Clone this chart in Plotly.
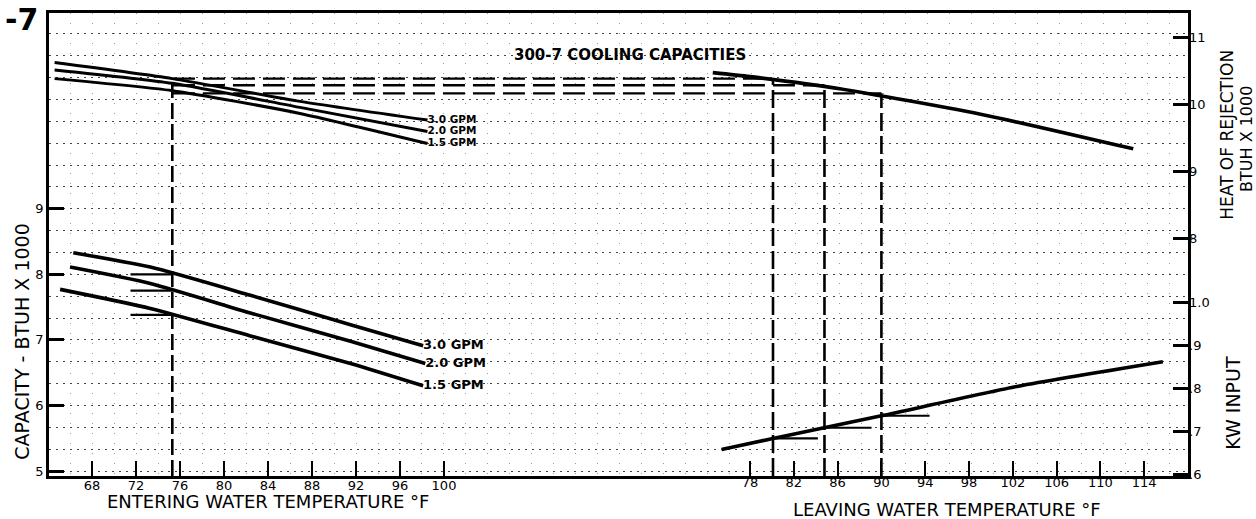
import plotly.graph_objects as go

# ---------------- data ----------------
ENTERING_TICKS = [68, 72, 76, 80, 84, 88, 92, 96, 100]
LEAVING_TICKS = [78, 82, 86, 90, 94, 98, 102, 106, 110, 114]
CAPACITY_TICKS = [5, 6, 7, 8, 9]
HOR_TICKS = [8, 9, 10, 11]
KW_TICKS = [0.6, 0.7, 0.8, 0.9, 1.0]
KW_TICK_TEXT = [".6", ".7", ".8", ".9", "1.0"]
GPM_LABELS = ["3.0 GPM", "2.0 GPM", "1.5 GPM"]

# cooling capacity (BTUH x 1000) vs entering water temperature
CAP_ENT_30 = [66.3, 73.3, 82.4, 91.5, 98.1]
CAP_30 = [8.33, 8.11, 7.68, 7.23, 6.91]
CAP_ENT_20 = [66.0, 73.3, 82.4, 91.5, 98.3]
CAP_20 = [8.11, 7.86, 7.41, 6.98, 6.64]
CAP_ENT_15 = [65.1, 73.3, 82.4, 91.5, 98.1]
CAP_15 = [7.77, 7.48, 7.06, 6.64, 6.30]

# heat of rejection (BTUH x 1000) vs entering water temperature
HOR_ENT = [64.6, 75.3, 86.9, 98.5]
HOR_30 = [10.63, 10.39, 10.05, 9.77]
HOR_20 = [10.52, 10.32, 9.96, 9.60]
HOR_15 = [10.39, 10.21, 9.87, 9.42]

# heat of rejection vs leaving water temperature
HOR_LEAVE = [74.6, 78.0, 86.2, 99.6, 113.0]
HOR_LEAVE_VAL = [10.48, 10.42, 10.24, 9.84, 9.34]

# kW input vs leaving water temperature
KW_LEAVE = [75.4, 80.1, 90.0, 102.5, 115.7]
KW_VAL = [0.657, 0.683, 0.736, 0.805, 0.862]

# example reading guides
GUIDE_ENTERING = 75.3
ARROW_ENT_START = 71.5
GUIDE_CAP = [8.0, 7.75, 7.38]
DASH_START_LEAVING = 25.3
GUIDE_LEAVING = [80.1, 84.8, 90.0]
GUIDE_HOR = [10.39, 10.29, 10.17]
GUIDE_KW = [0.683, 0.708, 0.736]
ARROW_LEAVE_END = [84.2, 89.1, 94.4]

# axis ranges
X_ENT_RANGE = [64.09, 167.64]
X_LEAVE_RANGE = [13.98, 118.0]
Y_CAP_RANGE = [4.924, 11.985]
Y_HOR_RANGE = [4.45, 11.371]
Y_KW_RANGE = [0.5954, 1.676]

FONT = "DejaVu Sans"
BLACK = "#000000"

fig = go.Figure()

def line(x, y, xa, ya, width=3.4, dash=None, shape="spline"):
    fig.add_trace(go.Scatter(
        x=x, y=y, xaxis=xa, yaxis=ya, mode="lines",
        line=dict(color=BLACK, width=width, dash=dash, shape=shape, smoothing=0.6),
        showlegend=False, hoverinfo="skip"))

def label(x, y, xa, ya, text, size):
    fig.add_trace(go.Scatter(
        x=[x], y=[y], xaxis=xa, yaxis=ya, mode="text", text=[text],
        textposition="middle right",
        textfont=dict(family=FONT, size=size, color=BLACK, weight="bold"),
        showlegend=False, hoverinfo="skip"))

# heat of rejection curves (entering)
for xs, ys, lab in [(HOR_ENT, HOR_30, GPM_LABELS[0]), (HOR_ENT, HOR_20, GPM_LABELS[1]),
                    (HOR_ENT, HOR_15, GPM_LABELS[2])]:
    line(xs, ys, "x", "y2", width=3.0)
    label(xs[-1], ys[-1], "x", "y2", lab, 10.5)

# capacity curves (entering)
for xs, ys, lab in [(CAP_ENT_30, CAP_30, GPM_LABELS[0]), (CAP_ENT_20, CAP_20, GPM_LABELS[1]),
                    (CAP_ENT_15, CAP_15, GPM_LABELS[2])]:
    line(xs, ys, "x", "y", width=3.6)
    label(xs[-1], ys[-1], "x", "y", lab, 13)

# heat of rejection vs leaving
line(HOR_LEAVE, HOR_LEAVE_VAL, "x2", "y2", width=3.6)
# kW input vs leaving
line(KW_LEAVE, KW_VAL, "x2", "y3", width=3.6)

# guides: vertical dashed at entering temperature
line([GUIDE_ENTERING, GUIDE_ENTERING], [Y_HOR_RANGE[0], GUIDE_HOR[0]], "x", "y2",
     width=2.6, dash="16px,5px", shape="linear")
# arrows to capacity axis
for c in GUIDE_CAP:
    line([ARROW_ENT_START, GUIDE_ENTERING], [c, c], "x", "y", width=2.2, shape="linear")
# horizontal dashed lines across to the leaving curve, then down
for lv, hv, kv, ae in zip(GUIDE_LEAVING, GUIDE_HOR, GUIDE_KW, ARROW_LEAVE_END):
    line([DASH_START_LEAVING, lv], [hv, hv], "x2", "y2", width=2.4, dash="22px,8px", shape="linear")
    line([lv, lv], [Y_HOR_RANGE[0], hv], "x2", "y2", width=2.6, dash="18px,5px", shape="linear")
    line([lv, ae], [kv, kv], "x2", "y3", width=2.2, shape="linear")

GRID = dict(gridcolor="#444444", gridwidth=1.3, griddash="2px,5px")
TICKFONT = dict(size=13, family=FONT, color=BLACK)

fig.update_layout(
    width=1256, height=519, autosize=False,
    margin=dict(l=49, r=68, t=10, b=43),
    paper_bgcolor="white", plot_bgcolor="white",
    font=dict(family=FONT, color=BLACK, size=13),
    showlegend=False,
    xaxis=dict(
        range=X_ENT_RANGE, tickmode="array", tickvals=ENTERING_TICKS,
        ticks="inside", ticklen=15, tickwidth=2, tickcolor=BLACK,
        showline=True, linewidth=2.5, linecolor=BLACK, mirror=True,
        showgrid=False, zeroline=False, ticklabelstandoff=-4,
        minor=dict(tickmode="linear", tick0=64, dtick=2, showgrid=True,
                   gridcolor="#9a9a9a", gridwidth=1.1, griddash="1px,9px", ticks=""),
        tickfont=TICKFONT, anchor="y",
    ),
    xaxis2=dict(
        range=X_LEAVE_RANGE, tickmode="array", tickvals=LEAVING_TICKS,
        overlaying="x", side="bottom", anchor="y",
        ticks="inside", ticklen=15, tickwidth=2, tickcolor=BLACK, ticklabelstandoff=-3,
        showline=False, showgrid=False, zeroline=False, tickfont=TICKFONT,
    ),
    yaxis=dict(
        range=Y_CAP_RANGE, tickmode="array", tickvals=CAPACITY_TICKS,
        ticks="inside", ticklen=15, tickwidth=2.5, tickcolor=BLACK,
        showline=True, linewidth=2.5, linecolor=BLACK, mirror=True,
        showgrid=True, zeroline=False, **GRID,
        minor=dict(tickmode="linear", tick0=5, dtick=1 / 3, showgrid=True, ticks="", **GRID),
        tickfont=TICKFONT, anchor="x",
    ),
    yaxis2=dict(
        range=Y_HOR_RANGE, tickmode="array", tickvals=HOR_TICKS,
        overlaying="y", side="right", anchor="x",
        ticks="inside", ticklen=15, tickwidth=2.5, tickcolor=BLACK,
        showline=False, showgrid=False, zeroline=False, tickfont=TICKFONT,
    ),
    yaxis3=dict(
        range=Y_KW_RANGE, tickmode="array", tickvals=KW_TICKS, ticktext=KW_TICK_TEXT,
        overlaying="y", side="right", anchor="x",
        ticks="inside", ticklen=15, tickwidth=2.5, tickcolor=BLACK,
        showline=False, showgrid=False, zeroline=False, tickfont=TICKFONT,
    ),
)

def note(text, x, y, size, xref="paper", angle=0, bold=False):
    return dict(text=text, x=x, y=y, xref=xref, yref="paper", xanchor="center",
                yanchor="middle", textangle=angle, showarrow=False,
                font=dict(size=size, family=FONT, color=BLACK,
                          weight="bold" if bold else "normal"))

ann = [
    note("-7", -0.024, 0.985, 30, bold=True),
    note("300-7 COOLING CAPACITIES", 0.51, 0.91, 15, bold=True),
    note("CAPACITY - BTUH X 1000", -0.0237, 0.29, 19, angle=-90),
    note("HEAT OF REJECTION", 1.0347, 0.736, 17, angle=-90),
    note("BTUH X 1000", 1.0514, 0.727, 16, angle=-90),
    note("KW INPUT", 1.0395, 0.158, 19, angle=-90),
    note("ENTERING WATER TEMPERATURE °F", 84, -0.056, 18, xref="x"),
    note("LEAVING WATER TEMPERATURE °F", 96, -0.072, 18, xref="x2"),
]
fig.update_layout(annotations=ann)

fig.write_html("out.html", include_plotlyjs=True,
               config={"displayModeBar": False},
               post_script="document.body.style.margin='0';document.body.style.overflow='hidden';")
